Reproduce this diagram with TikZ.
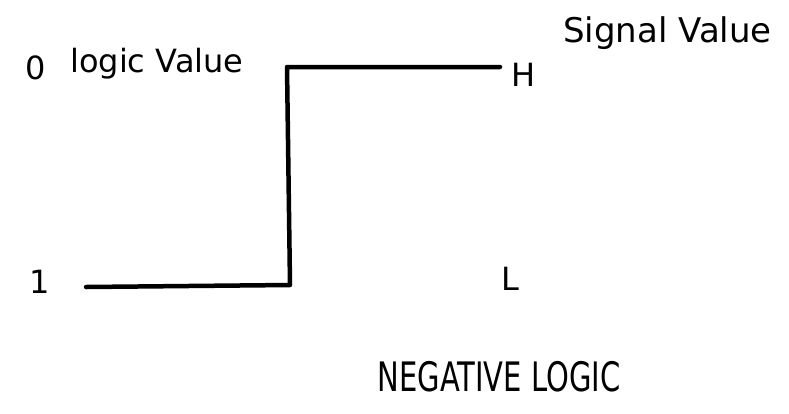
\documentclass[tikz,border=0pt]{standalone}
\usepackage{fontspec}
\setmainfont{DejaVu Sans}
\begin{document}
\begin{tikzpicture}[x=1pt,y=-1pt,
  lbl/.style={inner sep=0pt, font=\fontsize{32}{36}\selectfont},
  wave/.style={line width=4.5pt, line join=round, line cap=round}]
\useasboundingbox (0,0) rectangle (789,413);
\node[lbl] (zero) at (36,68) {0};
\node[lbl, anchor=base west] (lv) at (70,72) {logic Value};
\node[lbl, anchor=base west, font=\fontsize{34}{38}\selectfont] (sv) at (563,42) {Signal Value};
\node[lbl] (one) at (40,282) {1};
\node[lbl] (H) at (524,75) {H};
\node[lbl] (L) at (510,279) {L};
\coordinate (a) at (86,287);
\coordinate (b) at (290,285);
\coordinate (c) at (287,67);
\coordinate (d) at (500,67);
\draw[wave] (a) -- (b) -- (c) -- (d);
\node[lbl, font=\fontsize{29}{33}\selectfont] (title) at (499,377) {\scalebox{1}[1.4]{NEGATIVE LOGIC}};
\end{tikzpicture}
\end{document}
